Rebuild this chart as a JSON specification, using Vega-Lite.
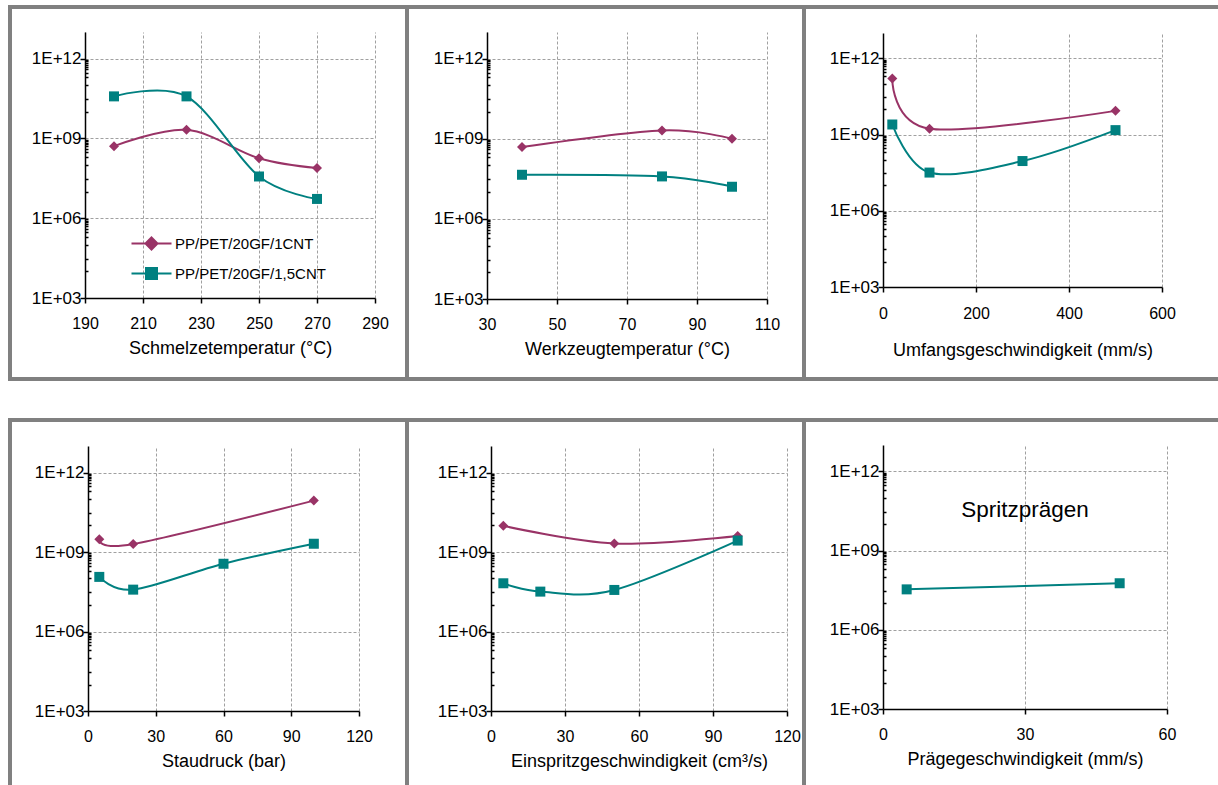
{
  "$schema": "https://vega.github.io/schema/vega-lite/v6.json",
  "padding": {"left": 8, "top": 5, "right": 0, "bottom": 0},
  "background": "white",
  "config": {
    "view": {"stroke": "#808080", "strokeWidth": 4, "fill": "white"},
    "font": "Liberation Sans",
    "axis": {
      "domainColor": "black", "domainWidth": 1.5, "tickColor": "black", "tickWidth": 1.5,
      "labelFont": "Liberation Sans", "labelColor": "black", "titleFont": "Liberation Sans", "titleColor": "black",
      "titleFontWeight": "normal", "gridColor": "#a0a0a0", "gridDash": [3, 2], "gridWidth": 1,
      "labelFlush": false, "labelOverlap": false
    }
  },
  "data": {"values": [
    {"panel": "p1", "series": "PP/PET/20GF/1CNT", "x": 200, "y": 5.1e8},
    {"panel": "p1", "series": "PP/PET/20GF/1CNT", "x": 225, "y": 2.1e9},
    {"panel": "p1", "series": "PP/PET/20GF/1CNT", "x": 250, "y": 1.8e8},
    {"panel": "p1", "series": "PP/PET/20GF/1CNT", "x": 270, "y": 7.7e7},
    {"panel": "p1", "series": "PP/PET/20GF/1,5CNT", "x": 200, "y": 3.8e10},
    {"panel": "p1", "series": "PP/PET/20GF/1,5CNT", "x": 225, "y": 3.8e10},
    {"panel": "p1", "series": "PP/PET/20GF/1,5CNT", "x": 250, "y": 3.7e7},
    {"panel": "p1", "series": "PP/PET/20GF/1,5CNT", "x": 270, "y": 5.3e6},
    {"panel": "p2", "series": "PP/PET/20GF/1CNT", "x": 40, "y": 4.9e8},
    {"panel": "p2", "series": "PP/PET/20GF/1CNT", "x": 80, "y": 2.05e9},
    {"panel": "p2", "series": "PP/PET/20GF/1CNT", "x": 100, "y": 1.0e9},
    {"panel": "p2", "series": "PP/PET/20GF/1,5CNT", "x": 40, "y": 4.5e7},
    {"panel": "p2", "series": "PP/PET/20GF/1,5CNT", "x": 80, "y": 3.9e7},
    {"panel": "p2", "series": "PP/PET/20GF/1,5CNT", "x": 100, "y": 1.6e7},
    {"panel": "p3", "series": "PP/PET/20GF/1CNT", "x": 20, "y": 1.6e11},
    {"panel": "p3", "series": "PP/PET/20GF/1CNT", "x": 100, "y": 1.7e9},
    {"panel": "p3", "series": "PP/PET/20GF/1CNT", "x": 500, "y": 8.6e9},
    {"panel": "p3", "series": "PP/PET/20GF/1,5CNT", "x": 20, "y": 2.5e9},
    {"panel": "p3", "series": "PP/PET/20GF/1,5CNT", "x": 100, "y": 3.2e7},
    {"panel": "p3", "series": "PP/PET/20GF/1,5CNT", "x": 300, "y": 9.1e7},
    {"panel": "p3", "series": "PP/PET/20GF/1,5CNT", "x": 500, "y": 1.5e9},
    {"panel": "p4", "series": "PP/PET/20GF/1CNT", "x": 5, "y": 3.0e9},
    {"panel": "p4", "series": "PP/PET/20GF/1CNT", "x": 20, "y": 2.0e9},
    {"panel": "p4", "series": "PP/PET/20GF/1CNT", "x": 100, "y": 8.7e10},
    {"panel": "p4", "series": "PP/PET/20GF/1,5CNT", "x": 5, "y": 1.15e8},
    {"panel": "p4", "series": "PP/PET/20GF/1,5CNT", "x": 20, "y": 3.8e7},
    {"panel": "p4", "series": "PP/PET/20GF/1,5CNT", "x": 60, "y": 3.6e8},
    {"panel": "p4", "series": "PP/PET/20GF/1,5CNT", "x": 100, "y": 2.05e9},
    {"panel": "p5", "series": "PP/PET/20GF/1CNT", "x": 5, "y": 9.7e9},
    {"panel": "p5", "series": "PP/PET/20GF/1CNT", "x": 50, "y": 2.1e9},
    {"panel": "p5", "series": "PP/PET/20GF/1CNT", "x": 100, "y": 4.0e9},
    {"panel": "p5", "series": "PP/PET/20GF/1,5CNT", "x": 5, "y": 6.6e7},
    {"panel": "p5", "series": "PP/PET/20GF/1,5CNT", "x": 20, "y": 3.2e7},
    {"panel": "p5", "series": "PP/PET/20GF/1,5CNT", "x": 50, "y": 3.7e7},
    {"panel": "p5", "series": "PP/PET/20GF/1,5CNT", "x": 100, "y": 2.7e9},
    {"panel": "p6", "series": "PP/PET/20GF/1,5CNT", "x": 5, "y": 3.4e7},
    {"panel": "p6", "series": "PP/PET/20GF/1,5CNT", "x": 50, "y": 5.8e7}
  ]},
  "columns": 3,
  "spacing": {"row": 41, "column": 0},
  "bounds": "flush",
  "concat": [
    {
      "width": 397, "height": 372,
      "transform": [{"filter": "datum.panel === 'p1'"}],
      "resolve": {"axis": {"x": "independent"}},
      "layer": [
        {
          "mark": {"type": "line", "interpolate": "cardinal", "strokeWidth": 2},
          "encoding": {
            "x": {"field": "x", "type": "quantitative",
              "scale": {"domain": [190, 290], "range": [75, 365], "nice": false, "zero": false},
              "axis": {"values": [190, 210, 230, 250, 270, 290], "title": "Schmelzetemperatur (°C)", "offset": -81, "grid": false,
                "tickSize": 5, "labelPadding": 12, "labelFontSize": 16, "titleFontSize": 18, "titlePadding": 8}},
            "y": {"field": "y", "type": "quantitative",
              "scale": {"type": "log", "domain": [1000, 1e13], "range": [291, 25], "nice": false},
              "axis": {"values": [1000, 10000, 30000, 100000, 200000, 300000, 400000, 500000, 600000, 700000, 800000, 900000, 1000000, 10000000, 30000000, 100000000, 200000000, 300000000, 400000000, 500000000, 600000000, 700000000, 800000000, 900000000, 1000000000, 10000000000, 30000000000, 100000000000, 200000000000, 300000000000, 400000000000, 500000000000, 600000000000, 700000000000, 800000000000, 900000000000, 1000000000000],
                "labelExpr": "datum.value == 1000 ? '1E+03' : datum.value == 1000000 ? '1E+06' : datum.value == 1000000000 ? '1E+09' : datum.value == 1000000000000 ? '1E+12' : ''",
                "offset": -75, "title": null, "grid": true,
                "gridOpacity": {"condition": {"test": "datum.value == 1000000 || datum.value == 1000000000 || datum.value == 1000000000000", "value": 1}, "value": 0},
                "tickSize": {"condition": {"test": "datum.value == 1000 || datum.value == 1000000 || datum.value == 1000000000 || datum.value == 1000000000000", "value": 5}, "value": -3},
                "labelFontSize": 17, "labelPadding": -1}},
            "color": {"field": "series", "type": "nominal",
              "scale": {"domain": ["PP/PET/20GF/1CNT", "PP/PET/20GF/1,5CNT"], "range": ["#993366", "#008080"]},
              "legend": {"orient": "none", "legendX": 134, "legendY": 229, "title": null, "padding": 0,
                "values": ["PP/PET/20GF/1CNT"],
                "symbolType": "M-4,0H4M0,-1.2L1.2,0L0,1.2L-1.2,0Z",
                "symbolFillColor": "#993366", "symbolStrokeColor": "#993366",
                "symbolSize": 100, "symbolStrokeWidth": 2, "labelOffset": 16, "labelLimit": 300,
                "labelFontSize": 15, "labelFont": "Liberation Sans", "labelColor": "black"}}
          }
        },
        {
          "mark": {"type": "point", "filled": true, "size": 100, "opacity": 1},
          "encoding": {
            "x": {"field": "x", "type": "quantitative",
              "axis": {"orient": "top", "values": [190, 210, 230, 250, 270, 290], "grid": true, "labels": false, "ticks": false, "domain": false, "title": null}},
            "y": {"field": "y", "type": "quantitative"},
            "fill": {"field": "series", "type": "nominal",
              "scale": {"domain": ["PP/PET/20GF/1,5CNT", "PP/PET/20GF/1CNT"], "range": ["#008080", "#993366"]},
              "legend": {"orient": "none", "legendX": 134, "legendY": 259, "title": null, "padding": 0,
                "values": ["PP/PET/20GF/1,5CNT"],
                "symbolType": "M-4,0H4M-1.1,-1.1H1.1V1.1H-1.1Z",
                "symbolFillColor": "#008080", "symbolStrokeColor": "#008080",
                "symbolSize": 100, "symbolStrokeWidth": 2, "labelOffset": 16, "labelLimit": 300,
                "labelFontSize": 15, "labelFont": "Liberation Sans", "labelColor": "black"}},
            "shape": {"condition": {"test": "datum.series === 'PP/PET/20GF/1CNT'", "value": "diamond"}, "value": "square"}
          }
        }
      ]
    },
    {
      "width": 397, "height": 372,
      "transform": [{"filter": "datum.panel === 'p2'"}],
      "resolve": {"axis": {"x": "independent"}},
      "layer": [
        {
          "mark": {"type": "line", "interpolate": "cardinal", "strokeWidth": 2},
          "encoding": {
            "x": {"field": "x", "type": "quantitative",
              "scale": {"domain": [30, 110], "range": [80, 360], "nice": false, "zero": false},
              "axis": {"values": [30, 50, 70, 90, 110], "title": "Werkzeugtemperatur (°C)", "offset": -80, "grid": false,
                "tickSize": 5, "labelPadding": 12, "labelFontSize": 16, "titleFontSize": 18, "titlePadding": 8}},
            "y": {"field": "y", "type": "quantitative",
              "scale": {"type": "log", "domain": [1000, 1e13], "range": [292, 25], "nice": false},
              "axis": {"values": [1000, 10000, 30000, 100000, 200000, 300000, 400000, 500000, 600000, 700000, 800000, 900000, 1000000, 10000000, 30000000, 100000000, 200000000, 300000000, 400000000, 500000000, 600000000, 700000000, 800000000, 900000000, 1000000000, 10000000000, 30000000000, 100000000000, 200000000000, 300000000000, 400000000000, 500000000000, 600000000000, 700000000000, 800000000000, 900000000000, 1000000000000],
                "labelExpr": "datum.value == 1000 ? '1E+03' : datum.value == 1000000 ? '1E+06' : datum.value == 1000000000 ? '1E+09' : datum.value == 1000000000000 ? '1E+12' : ''",
                "offset": -80, "title": null, "grid": true,
                "gridOpacity": {"condition": {"test": "datum.value == 1000000 || datum.value == 1000000000 || datum.value == 1000000000000", "value": 1}, "value": 0},
                "tickSize": {"condition": {"test": "datum.value == 1000 || datum.value == 1000000 || datum.value == 1000000000 || datum.value == 1000000000000", "value": 5}, "value": -3},
                "labelFontSize": 17, "labelPadding": -1}},
            "color": {"field": "series", "type": "nominal", "legend": null}
          }
        },
        {
          "mark": {"type": "point", "filled": true, "size": 100, "opacity": 1},
          "encoding": {
            "x": {"field": "x", "type": "quantitative",
              "axis": {"orient": "top", "values": [30, 50, 70, 90, 110], "grid": true, "labels": false, "ticks": false, "domain": false, "title": null}},
            "y": {"field": "y", "type": "quantitative"},
            "fill": {"field": "series", "type": "nominal", "legend": null},
            "shape": {"condition": {"test": "datum.series === 'PP/PET/20GF/1CNT'", "value": "diamond"}, "value": "square"}
          }
        }
      ]
    },
    {
      "width": 416, "height": 372,
      "transform": [{"filter": "datum.panel === 'p3'"}],
      "resolve": {"axis": {"x": "independent"}},
      "layer": [
        {
          "mark": {"type": "line", "interpolate": "cardinal", "strokeWidth": 2},
          "encoding": {
            "x": {"field": "x", "type": "quantitative",
              "scale": {"domain": [0, 600], "range": [79, 358], "nice": false, "zero": false},
              "axis": {"values": [0, 200, 400, 600], "title": "Umfangsgeschwindigkeit (mm/s)", "offset": -92, "grid": false,
                "tickSize": 5, "labelPadding": 13, "labelFontSize": 16, "titleFontSize": 18, "titlePadding": 20}},
            "y": {"field": "y", "type": "quantitative",
              "scale": {"type": "log", "domain": [1000, 1e13], "range": [280, 26], "nice": false},
              "axis": {"values": [1000, 10000, 30000, 100000, 200000, 300000, 400000, 500000, 600000, 700000, 800000, 900000, 1000000, 10000000, 30000000, 100000000, 200000000, 300000000, 400000000, 500000000, 600000000, 700000000, 800000000, 900000000, 1000000000, 10000000000, 30000000000, 100000000000, 200000000000, 300000000000, 400000000000, 500000000000, 600000000000, 700000000000, 800000000000, 900000000000, 1000000000000],
                "labelExpr": "datum.value == 1000 ? '1E+03' : datum.value == 1000000 ? '1E+06' : datum.value == 1000000000 ? '1E+09' : datum.value == 1000000000000 ? '1E+12' : ''",
                "offset": -79, "title": null, "grid": true,
                "gridOpacity": {"condition": {"test": "datum.value == 1000000 || datum.value == 1000000000 || datum.value == 1000000000000", "value": 1}, "value": 0},
                "tickSize": {"condition": {"test": "datum.value == 1000 || datum.value == 1000000 || datum.value == 1000000000 || datum.value == 1000000000000", "value": 5}, "value": -3},
                "labelFontSize": 17, "labelPadding": -1}},
            "color": {"field": "series", "type": "nominal", "legend": null}
          }
        },
        {
          "mark": {"type": "point", "filled": true, "size": 100, "opacity": 1},
          "encoding": {
            "x": {"field": "x", "type": "quantitative",
              "axis": {"orient": "top", "values": [0, 200, 400, 600], "grid": true, "labels": false, "ticks": false, "domain": false, "title": null}},
            "y": {"field": "y", "type": "quantitative"},
            "fill": {"field": "series", "type": "nominal", "legend": null},
            "shape": {"condition": {"test": "datum.series === 'PP/PET/20GF/1CNT'", "value": "diamond"}, "value": "square"}
          }
        }
      ]
    },
    {
      "width": 397, "height": 368,
      "transform": [{"filter": "datum.panel === 'p4'"}],
      "resolve": {"axis": {"x": "independent"}},
      "layer": [
        {
          "mark": {"type": "line", "interpolate": "cardinal", "strokeWidth": 2},
          "encoding": {
            "x": {"field": "x", "type": "quantitative",
              "scale": {"domain": [0, 120], "range": [78, 349], "nice": false, "zero": false},
              "axis": {"values": [0, 30, 60, 90, 120], "title": "Staudruck (bar)", "offset": -77, "grid": false,
                "tickSize": 5, "labelPadding": 12, "labelFontSize": 16, "titleFontSize": 18, "titlePadding": 8}},
            "y": {"field": "y", "type": "quantitative",
              "scale": {"type": "log", "domain": [1000, 1e13], "range": [291, 26], "nice": false},
              "axis": {"values": [1000, 10000, 30000, 100000, 200000, 300000, 400000, 500000, 600000, 700000, 800000, 900000, 1000000, 10000000, 30000000, 100000000, 200000000, 300000000, 400000000, 500000000, 600000000, 700000000, 800000000, 900000000, 1000000000, 10000000000, 30000000000, 100000000000, 200000000000, 300000000000, 400000000000, 500000000000, 600000000000, 700000000000, 800000000000, 900000000000, 1000000000000],
                "labelExpr": "datum.value == 1000 ? '1E+03' : datum.value == 1000000 ? '1E+06' : datum.value == 1000000000 ? '1E+09' : datum.value == 1000000000000 ? '1E+12' : ''",
                "offset": -78, "title": null, "grid": true,
                "gridOpacity": {"condition": {"test": "datum.value == 1000000 || datum.value == 1000000000 || datum.value == 1000000000000", "value": 1}, "value": 0},
                "tickSize": {"condition": {"test": "datum.value == 1000 || datum.value == 1000000 || datum.value == 1000000000 || datum.value == 1000000000000", "value": 5}, "value": -3},
                "labelFontSize": 17, "labelPadding": -1}},
            "color": {"field": "series", "type": "nominal", "legend": null}
          }
        },
        {
          "mark": {"type": "point", "filled": true, "size": 100, "opacity": 1},
          "encoding": {
            "x": {"field": "x", "type": "quantitative",
              "axis": {"orient": "top", "values": [0, 30, 60, 90, 120], "grid": true, "labels": false, "ticks": false, "domain": false, "title": null}},
            "y": {"field": "y", "type": "quantitative"},
            "fill": {"field": "series", "type": "nominal", "legend": null},
            "shape": {"condition": {"test": "datum.series === 'PP/PET/20GF/1CNT'", "value": "diamond"}, "value": "square"}
          }
        }
      ]
    },
    {
      "width": 397, "height": 368,
      "transform": [{"filter": "datum.panel === 'p5'"}],
      "resolve": {"axis": {"x": "independent"}},
      "layer": [
        {
          "mark": {"type": "line", "interpolate": "cardinal", "strokeWidth": 2},
          "encoding": {
            "x": {"field": "x", "type": "quantitative",
              "scale": {"domain": [0, 120], "range": [84, 380], "nice": false, "zero": false},
              "axis": {"values": [0, 30, 60, 90, 120], "title": "Einspritzgeschwindigkeit (cm³/s)", "offset": -77, "grid": false,
                "tickSize": 5, "labelPadding": 12, "labelFontSize": 16, "titleFontSize": 18, "titlePadding": 8}},
            "y": {"field": "y", "type": "quantitative",
              "scale": {"type": "log", "domain": [1000, 1e13], "range": [291, 26], "nice": false},
              "axis": {"values": [1000, 10000, 30000, 100000, 200000, 300000, 400000, 500000, 600000, 700000, 800000, 900000, 1000000, 10000000, 30000000, 100000000, 200000000, 300000000, 400000000, 500000000, 600000000, 700000000, 800000000, 900000000, 1000000000, 10000000000, 30000000000, 100000000000, 200000000000, 300000000000, 400000000000, 500000000000, 600000000000, 700000000000, 800000000000, 900000000000, 1000000000000],
                "labelExpr": "datum.value == 1000 ? '1E+03' : datum.value == 1000000 ? '1E+06' : datum.value == 1000000000 ? '1E+09' : datum.value == 1000000000000 ? '1E+12' : ''",
                "offset": -84, "title": null, "grid": true,
                "gridOpacity": {"condition": {"test": "datum.value == 1000000 || datum.value == 1000000000 || datum.value == 1000000000000", "value": 1}, "value": 0},
                "tickSize": {"condition": {"test": "datum.value == 1000 || datum.value == 1000000 || datum.value == 1000000000 || datum.value == 1000000000000", "value": 5}, "value": -3},
                "labelFontSize": 17, "labelPadding": -1}},
            "color": {"field": "series", "type": "nominal", "legend": null}
          }
        },
        {
          "mark": {"type": "point", "filled": true, "size": 100, "opacity": 1},
          "encoding": {
            "x": {"field": "x", "type": "quantitative",
              "axis": {"orient": "top", "values": [0, 30, 60, 90, 120], "grid": true, "labels": false, "ticks": false, "domain": false, "title": null}},
            "y": {"field": "y", "type": "quantitative"},
            "fill": {"field": "series", "type": "nominal", "legend": null},
            "shape": {"condition": {"test": "datum.series === 'PP/PET/20GF/1CNT'", "value": "diamond"}, "value": "square"}
          }
        }
      ]
    },
    {
      "width": 416, "height": 368,
      "resolve": {"axis": {"x": "independent"}},
      "layer": [
        {
          "transform": [{"filter": "datum.panel === 'p6'"}],
          "mark": {"type": "line", "interpolate": "cardinal", "strokeWidth": 2},
          "encoding": {
            "x": {"field": "x", "type": "quantitative",
              "scale": {"domain": [0, 60], "range": [79, 363], "nice": false, "zero": false},
              "axis": {"values": [0, 30, 60], "title": "Prägegeschwindigkeit (mm/s)", "offset": -79, "grid": false,
                "tickSize": 5, "labelPadding": 12, "labelFontSize": 16, "titleFontSize": 18, "titlePadding": 8}},
            "y": {"field": "y", "type": "quantitative",
              "scale": {"type": "log", "domain": [1000, 1e13], "range": [289, 25], "nice": false},
              "axis": {"values": [1000, 10000, 30000, 100000, 200000, 300000, 400000, 500000, 600000, 700000, 800000, 900000, 1000000, 10000000, 30000000, 100000000, 200000000, 300000000, 400000000, 500000000, 600000000, 700000000, 800000000, 900000000, 1000000000, 10000000000, 30000000000, 100000000000, 200000000000, 300000000000, 400000000000, 500000000000, 600000000000, 700000000000, 800000000000, 900000000000, 1000000000000],
                "labelExpr": "datum.value == 1000 ? '1E+03' : datum.value == 1000000 ? '1E+06' : datum.value == 1000000000 ? '1E+09' : datum.value == 1000000000000 ? '1E+12' : ''",
                "offset": -79, "title": null, "grid": true,
                "gridOpacity": {"condition": {"test": "datum.value == 1000000 || datum.value == 1000000000 || datum.value == 1000000000000", "value": 1}, "value": 0},
                "tickSize": {"condition": {"test": "datum.value == 1000 || datum.value == 1000000 || datum.value == 1000000000 || datum.value == 1000000000000", "value": 5}, "value": -3},
                "labelFontSize": 17, "labelPadding": -1}},
            "color": {"field": "series", "type": "nominal", "legend": null}
          }
        },
        {
          "transform": [{"filter": "datum.panel === 'p6'"}],
          "mark": {"type": "point", "filled": true, "size": 100, "opacity": 1},
          "encoding": {
            "x": {"field": "x", "type": "quantitative",
              "axis": {"orient": "top", "values": [0, 30, 60], "grid": true, "labels": false, "ticks": false, "domain": false, "title": null}},
            "y": {"field": "y", "type": "quantitative"},
            "fill": {"field": "series", "type": "nominal", "legend": null},
            "shape": {"condition": {"test": "datum.series === 'PP/PET/20GF/1CNT'", "value": "diamond"}, "value": "square"}
          }
        },
        {
          "data": {"values": [{"label": "Spritzprägen"}]},
          "mark": {"type": "text", "fontSize": 22.5, "baseline": "alphabetic", "align": "center", "font": "Liberation Sans", "color": "black"},
          "encoding": {
            "x": {"datum": 30, "type": "quantitative", "axis": null},
            "y": {"datum": 19500000000, "type": "quantitative"},
            "text": {"field": "label", "type": "nominal"}
          }
        }
      ]
    }
  ]
}
